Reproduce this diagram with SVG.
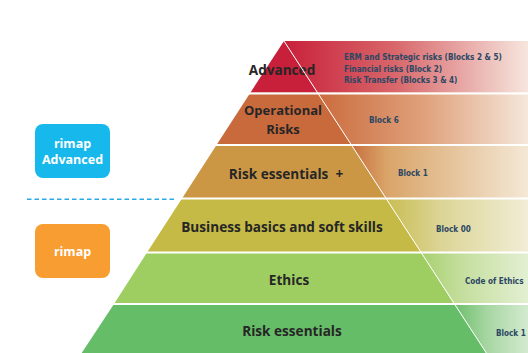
<svg xmlns="http://www.w3.org/2000/svg" width="528" height="353" viewBox="0 0 528 353">
<style>
.lbl{font-family:"Open Sans","Liberation Sans",sans-serif;font-weight:700;font-size:13.6px;fill:#262626;text-anchor:middle;white-space:pre}
.lbl2{font-size:13px}
.blk{font-family:"DejaVu Sans Condensed","DejaVu Sans",sans-serif;font-weight:700;font-size:8.1px;fill:#2B4763}
.badge{font-family:"Open Sans","Liberation Sans",sans-serif;font-weight:700;font-size:12.5px;fill:#ffffff;text-anchor:middle}
.sep{stroke:#ffffff;stroke-width:2.2}
.diag{stroke:#ffffff;stroke-width:1}
</style>
<defs>
<linearGradient id="g1" gradientUnits="userSpaceOnUse" x1="284" y1="0" x2="528" y2="0">
<stop offset="0" stop-color="#C8203A"/><stop offset="0.45" stop-color="#D8666A"/><stop offset="1" stop-color="#F6E6DE"/></linearGradient>
<linearGradient id="g2" gradientUnits="userSpaceOnUse" x1="317" y1="0" x2="528" y2="0">
<stop offset="0" stop-color="#CB6B3D"/><stop offset="0.5" stop-color="#DFA07A"/><stop offset="1" stop-color="#F5E7DB"/></linearGradient>
<linearGradient id="g3" gradientUnits="userSpaceOnUse" x1="351" y1="0" x2="528" y2="0">
<stop offset="0" stop-color="#C86E3E"/><stop offset="0.2" stop-color="#D9A468"/><stop offset="1" stop-color="#F4E8D6"/></linearGradient>
<linearGradient id="g4" gradientUnits="userSpaceOnUse" x1="385" y1="0" x2="528" y2="0">
<stop offset="0" stop-color="#C8BC50"/><stop offset="0.4" stop-color="#DCD597"/><stop offset="1" stop-color="#F1EDD6"/></linearGradient>
<linearGradient id="g5" gradientUnits="userSpaceOnUse" x1="420" y1="0" x2="528" y2="0">
<stop offset="0" stop-color="#A7D06E"/><stop offset="0.4" stop-color="#C5DF9F"/><stop offset="1" stop-color="#E3EFD2"/></linearGradient>
<linearGradient id="g6" gradientUnits="userSpaceOnUse" x1="454" y1="0" x2="528" y2="0">
<stop offset="0" stop-color="#6CBE6B"/><stop offset="0.45" stop-color="#A7D6A2"/><stop offset="1" stop-color="#D3EAD0"/></linearGradient>
</defs>
<rect width="528" height="353" fill="#ffffff"/>

<g id="layer-advanced">
<polygon points="284,41 317.5,92.5 250.5,92.5" fill="#C8203A"/>
<polygon points="284,41 528,41 528,92.5 317.5,92.5" fill="url(#g1)"/>
<text class="lbl" x="282" y="75">Advanced</text>
<text class="blk" x="344" y="60">ERM and Strategic risks (Blocks 2 &amp; 5)</text>
<text class="blk" x="344" y="71.5">Financial risks (Block 2)</text>
<text class="blk" x="344" y="83">Risk Transfer (Blocks 3 &amp; 4)</text>
</g>

<g id="layer-operational">
<polygon points="250.5,92.5 317.5,92.5 351.5,145 216.5,145" fill="#C96A3C"/>
<polygon points="317.5,92.5 528,92.5 528,145 351.5,145" fill="url(#g2)"/>
<text class="lbl lbl2" x="283" y="115">Operational</text>
<text class="lbl lbl2" x="283" y="133.5">Risks</text>
<text class="blk" x="369" y="123">Block 6</text>
</g>

<g id="layer-risk-plus">
<polygon points="216.5,145 351.5,145 386,198.5 182,198.5" fill="#CC9745"/>
<polygon points="351.5,145 528,145 528,198.5 386,198.5" fill="url(#g3)"/>
<text class="lbl" x="286" y="179" xml:space="preserve">Risk essentials  +</text>
<text class="blk" x="398" y="176">Block 1</text>
</g>

<g id="layer-business">
<polygon points="182,198.5 386,198.5 421,252.5 147,252.5" fill="#C4BA45"/>
<polygon points="386,198.5 528,198.5 528,252.5 421,252.5" fill="url(#g4)"/>
<text class="lbl" x="282" y="232">Business basics and soft skills</text>
<text class="blk" x="436" y="232">Block 00</text>
</g>

<g id="layer-ethics">
<polygon points="147,252.5 421,252.5 454,304 114,304" fill="#9ECE61"/>
<polygon points="421,252.5 528,252.5 528,304 454,304" fill="url(#g5)"/>
<text class="lbl" x="289" y="285">Ethics</text>
<text class="blk" x="465" y="284">Code of Ethics</text>
</g>

<g id="layer-risk">
<polygon points="114,304 454,304 487,354 81,354" fill="#66BD68"/>
<polygon points="454,304 528,304 528,354 487,354" fill="url(#g6)"/>
<text class="lbl" x="292" y="336">Risk essentials</text>
<text class="blk" x="496" y="336">Block 1</text>
</g>

<g id="connectors">
<line class="diag" x1="284" y1="41" x2="487" y2="354"/>
<line class="sep" x1="140" y1="93.5" x2="528" y2="93.5"/>
<line class="sep" x1="140" y1="145" x2="528" y2="145"/>
<line class="sep" x1="100" y1="198.5" x2="528" y2="198.5"/>
<line class="sep" x1="60" y1="252.5" x2="528" y2="252.5"/>
<line class="sep" x1="60" y1="304" x2="528" y2="304"/>
<line x1="27" y1="199.3" x2="177" y2="199.3" stroke="#29ABE2" stroke-width="1.5" stroke-dasharray="4.5,3"/>
</g>

<g id="badge-advanced">
<rect x="35" y="124" width="75" height="54" rx="8" fill="#17B9EC"/>
<text class="badge" x="72.5" y="148">rimap</text>
<text class="badge" x="72.5" y="163.5">Advanced</text>
</g>

<g id="badge-rimap">
<rect x="35" y="224" width="75" height="54" rx="8" fill="#F79D32"/>
<text class="badge" x="72.5" y="255.5">rimap</text>
</g>
</svg>
